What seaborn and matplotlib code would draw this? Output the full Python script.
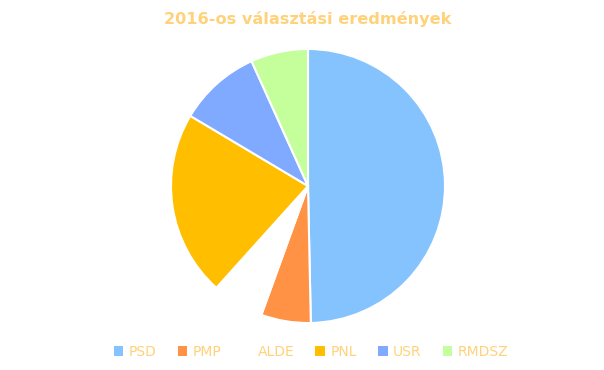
import matplotlib
matplotlib.use("Agg")
import matplotlib.pyplot as plt
import seaborn as sns
from matplotlib.patches import Patch

sns.set_theme(style="white")
plt.rcParams['font.family'] = ['DejaVu Sans']

parties = ["PSD", "PMP", "ALDE", "PNL", "USR", "RMDSZ"]
votes = [45.48, 5.36, 5.62, 20.04, 8.87, 6.19]
colors = ["#85C3FF", "#FF9244", "#FFFFFF", "#FFBF00", "#80AAFF", "#C4FF9B"]
title = "2016-os választási eredmények"
text_color = "#FFD27A"

W, H = 604, 370
fig = plt.figure(figsize=(W / 100, H / 100), dpi=100)
cx, cy, r = 308, 184, 137
ax = fig.add_axes([(cx - r) / W, (cy - r) / H, 2 * r / W, 2 * r / H])
ax.pie(votes, colors=colors, startangle=90, counterclock=False,
       wedgeprops=dict(edgecolor="white", linewidth=1.5), radius=1.0)
ax.set_xlim(-1, 1)
ax.set_ylim(-1, 1)
ax.set_aspect("equal")
ax.axis("off")

fig.text(cx / W, 1 - 19 / H, title, ha="center", va="center",
         fontsize=11.6, fontweight="bold", color=text_color)

handles = [Patch(facecolor=c, edgecolor="none") for c in colors]
fig.legend(handles, parties, loc="center", bbox_to_anchor=(0.515, 1 - 352 / H),
           ncol=6, frameon=False, fontsize=10, labelcolor=text_color,
           handlelength=0.7, handleheight=0.7, handletextpad=0.4,
           columnspacing=1.5)

fig.savefig("out.png", dpi=100, facecolor="white")
